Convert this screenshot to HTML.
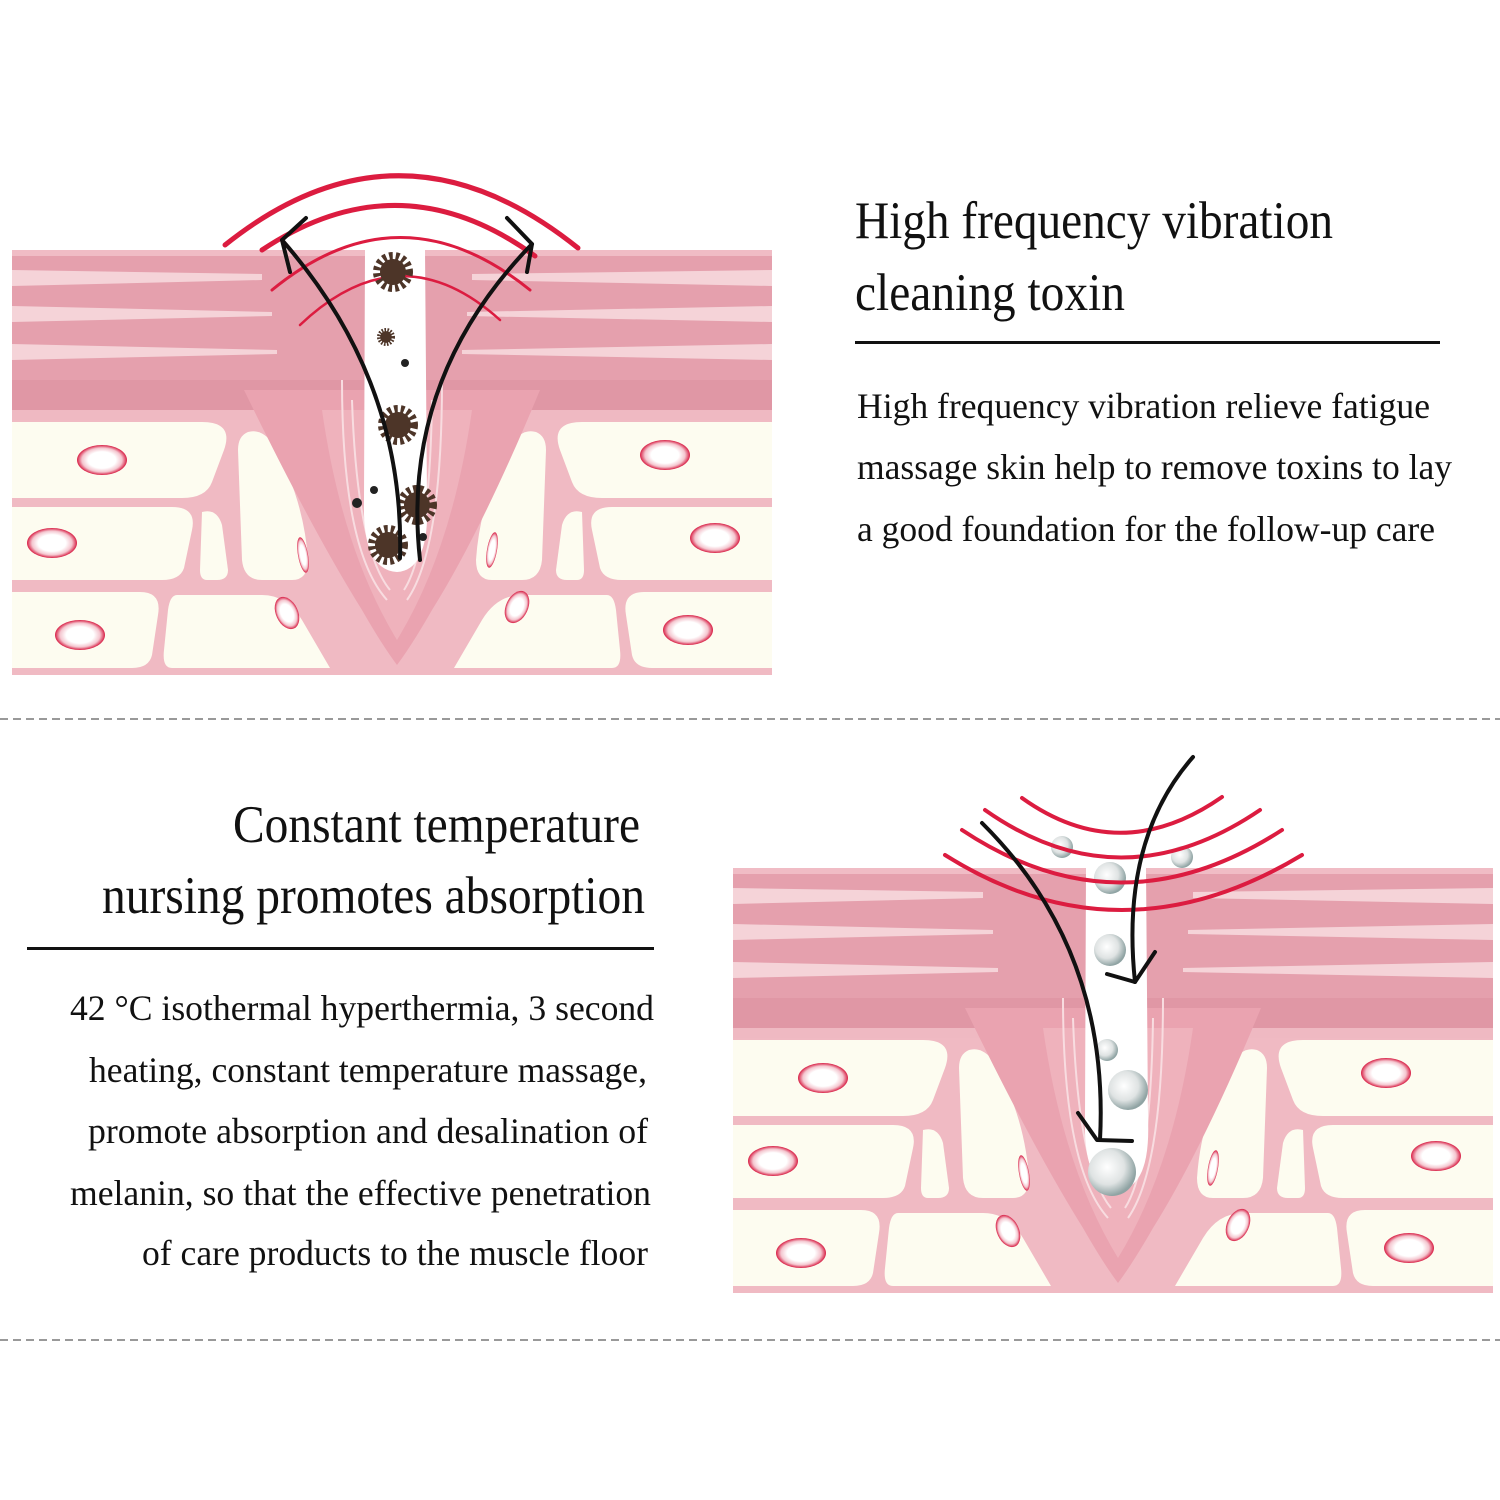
<!DOCTYPE html>
<html><head><meta charset="utf-8"><style>
html,body{margin:0;padding:0;background:#fff;}
svg{display:block;}
text{font-family:"Liberation Serif",serif;fill:#111;}
</style></head><body>
<svg width="1500" height="1500" viewBox="0 0 1500 1500" xmlns="http://www.w3.org/2000/svg">
<defs>
<radialGradient id="cell" cx="0.5" cy="0.5" r="0.5">
<stop offset="0.55" stop-color="#fff"/><stop offset="0.8" stop-color="#f4c6cf"/><stop offset="1" stop-color="#d81f45"/>
</radialGradient>
<radialGradient id="bub" cx="0.4" cy="0.4" r="0.6">
<stop offset="0" stop-color="#fff"/><stop offset="0.6" stop-color="#dfe3e3"/><stop offset="1" stop-color="#8fa3a3"/>
</radialGradient>
<g id="half" fill="#fdfcf0">
<path d="M0 172 L190 172 Q222 172 212 200 L200 232 Q194 248 170 248 L0 248 Z"/>
<path d="M236 182 Q250 178 262 195 Q292 250 296 310 Q296 330 280 330 L250 330 Q232 330 230 310 L226 200 Q226 186 236 182 Z"/>
<path d="M0 257 L160 257 Q185 257 180 280 L172 318 Q168 330 150 330 L0 330 Z"/>
<path d="M190 262 Q205 258 210 275 L216 320 Q216 330 205 330 L195 330 Q188 330 188 320 Z"/>
<path d="M0 342 L128 342 Q150 342 146 365 L140 405 Q137 418 120 418 L0 418 Z"/>
<path d="M165 345 L250 345 Q275 345 290 370 L318 418 L160 418 Q150 418 152 400 L156 360 Q158 345 165 345 Z"/>
</g>
<g id="skin">
<rect x="0" y="0" width="760" height="425" fill="#f0bac3"/>
<use href="#half"/>
<use href="#half" transform="translate(760 0) scale(-1 1)"/>
<!-- upper dermis -->
<rect x="0" y="0" width="760" height="168" fill="#e5a0ad"/>
<rect x="0" y="0" width="760" height="6" fill="#f0bcc5"/>
<path d="M0 20 L250 24 L250 30 L0 36 Z" fill="#f5d3d8"/>
<path d="M0 56 L260 62 L260 66 L0 72 Z" fill="#f5d3d8"/>
<path d="M0 94 L265 100 L265 104 L0 110 Z" fill="#f5d3d8"/>
<path d="M760 20 L460 24 L460 30 L760 36 Z" fill="#f5d3d8"/>
<path d="M760 56 L455 62 L455 66 L760 72 Z" fill="#f5d3d8"/>
<path d="M760 94 L450 100 L450 104 L760 110 Z" fill="#f5d3d8"/>
<rect x="0" y="130" width="760" height="30" fill="#e097a5"/>
<rect x="0" y="160" width="760" height="10" fill="#efb9c2"/>
<!-- funnel -->
<path d="M232 140 L528 140 Q470 280 420 360 Q400 395 385 415 Q370 395 350 360 Q300 280 232 140 Z" fill="#eaa3b0"/>
<path d="M310 160 Q330 300 385 390 Q440 300 460 160 Z" fill="#efb2bc"/>
<g fill="none" stroke="#f8dce0" stroke-width="2">
<path d="M330 130 Q330 300 375 350"/><path d="M340 150 Q345 300 378 340"/>
<path d="M430 130 Q430 300 395 350"/><path d="M420 150 Q418 300 392 340"/>
</g>
<!-- pore channel -->
<path d="M353 0 L413 0 L415 250 Q418 320 385 322 Q350 320 352 250 Z" fill="#fff"/>
<!-- cells -->
<g stroke="none" fill="url(#cell)">
<ellipse cx="90" cy="210" rx="25" ry="15"/>
<ellipse cx="40" cy="293" rx="25" ry="15"/>
<ellipse cx="68" cy="385" rx="25" ry="15"/>
<ellipse cx="653" cy="205" rx="25" ry="15"/>
<ellipse cx="703" cy="288" rx="25" ry="15"/>
<ellipse cx="676" cy="380" rx="25" ry="15"/>
<ellipse cx="291" cy="305" rx="5" ry="18" transform="rotate(-10 291 305)"/>
<ellipse cx="275" cy="363" rx="11" ry="17" transform="rotate(-25 275 363)"/>
<ellipse cx="480" cy="300" rx="5" ry="18" transform="rotate(10 480 300)"/>
<ellipse cx="505" cy="357" rx="11" ry="17" transform="rotate(25 505 357)"/>
</g>
</g>
<g id="star">
<circle r="13" fill="#4d3528"/>
<circle r="16" fill="none" stroke="#4d3528" stroke-width="8" stroke-dasharray="3.5 3"/>
</g>
</defs>

<!-- TOP -->
<use href="#skin" x="12" y="250"/>
<g fill="none" stroke="#dc1c40" stroke-linecap="round">
<path d="M225 245 Q400 105 578 248" stroke-width="5"/>
<path d="M262 250 Q400 158 535 256" stroke-width="5"/>
<path d="M272 290 Q400 185 530 290" stroke-width="3"/>
<path d="M300 325 Q400 230 500 320" stroke-width="2.5"/>
</g>
<use href="#star" x="393" y="272"/>
<use href="#star" x="386" y="337" transform="translate(386 337) scale(0.45) translate(-386 -337)"/>
<circle cx="405" cy="363" r="4" fill="#222"/>
<use href="#star" x="398" y="425"/>
<use href="#star" x="417" y="505"/>
<use href="#star" x="388" y="545"/>
<circle cx="374" cy="490" r="4" fill="#222"/>
<circle cx="357" cy="503" r="5" fill="#222"/>
<circle cx="423" cy="537" r="4" fill="#222"/>
<g fill="none" stroke="#111" stroke-width="4" stroke-linecap="round" stroke-linejoin="round">
<path d="M400 558 Q405 380 282 240"/>
<path d="M420 560 Q400 380 532 244"/>
<path d="M306 218 L282 240 L290 272"/>
<path d="M507 218 L532 244 L527 272"/>
</g>

<!-- top text -->
<text x="855" y="238" font-size="53" textLength="478" lengthAdjust="spacingAndGlyphs">High frequency vibration</text>
<text x="855" y="310" font-size="53" textLength="270" lengthAdjust="spacingAndGlyphs">cleaning toxin</text>
<rect x="855" y="341" width="585" height="3" fill="#111"/>
<text x="857" y="418" font-size="36" textLength="573" lengthAdjust="spacingAndGlyphs">High frequency vibration relieve fatigue</text>
<text x="857" y="479" font-size="36" textLength="595" lengthAdjust="spacingAndGlyphs">massage skin help to remove toxins to lay</text>
<text x="857" y="541" font-size="36" textLength="578" lengthAdjust="spacingAndGlyphs">a good foundation for the follow-up care</text>

<line x1="0" y1="719" x2="1500" y2="719" stroke="#999" stroke-width="2" stroke-dasharray="8 5"/>

<!-- bottom text -->
<text x="233" y="842" font-size="53" textLength="407" lengthAdjust="spacingAndGlyphs">Constant temperature</text>
<text x="102" y="913" font-size="53" textLength="543" lengthAdjust="spacingAndGlyphs">nursing promotes absorption</text>
<rect x="27" y="947" width="627" height="3" fill="#111"/>
<text x="70" y="1020" font-size="36" textLength="584" lengthAdjust="spacingAndGlyphs">42 °C isothermal hyperthermia, 3 second</text>
<text x="89" y="1082" font-size="36" textLength="558" lengthAdjust="spacingAndGlyphs">heating, constant temperature massage,</text>
<text x="88" y="1143" font-size="36" textLength="560" lengthAdjust="spacingAndGlyphs">promote absorption and desalination of</text>
<text x="70" y="1205" font-size="36" textLength="581" lengthAdjust="spacingAndGlyphs">melanin, so that the effective penetration</text>
<text x="142" y="1265" font-size="36" textLength="506" lengthAdjust="spacingAndGlyphs">of care products to the muscle floor</text>

<!-- BOTTOM -->
<use href="#skin" x="733" y="868"/>
<g>
<circle cx="1062" cy="847" r="11" fill="url(#bub)"/>
<circle cx="1182" cy="857" r="11" fill="url(#bub)"/>
<circle cx="1110" cy="878" r="16" fill="url(#bub)"/>
<circle cx="1110" cy="950" r="16" fill="url(#bub)"/>
<circle cx="1107" cy="1050" r="11" fill="url(#bub)"/>
<circle cx="1128" cy="1090" r="20" fill="url(#bub)"/>
<circle cx="1112" cy="1172" r="24" fill="url(#bub)"/>
</g>
<g fill="none" stroke="#dc1c40" stroke-width="4" stroke-linecap="round">
<path d="M1022 798 Q1120 868 1222 797"/>
<path d="M985 810 Q1120 905 1260 810"/>
<path d="M962 830 Q1120 935 1282 830"/>
<path d="M945 855 Q1120 965 1302 855"/>
</g>
<g fill="none" stroke="#111" stroke-width="4" stroke-linecap="round" stroke-linejoin="round">
<path d="M982 823 Q1110 950 1100 1140"/>
<path d="M1078 1113 L1097 1140 L1132 1141"/>
<path d="M1193 757 Q1120 840 1135 982"/>
<path d="M1107 974 L1135 982 L1155 952"/>
</g>

<line x1="0" y1="1340" x2="1500" y2="1340" stroke="#999" stroke-width="2" stroke-dasharray="8 5"/>
</svg>
</body></html>
